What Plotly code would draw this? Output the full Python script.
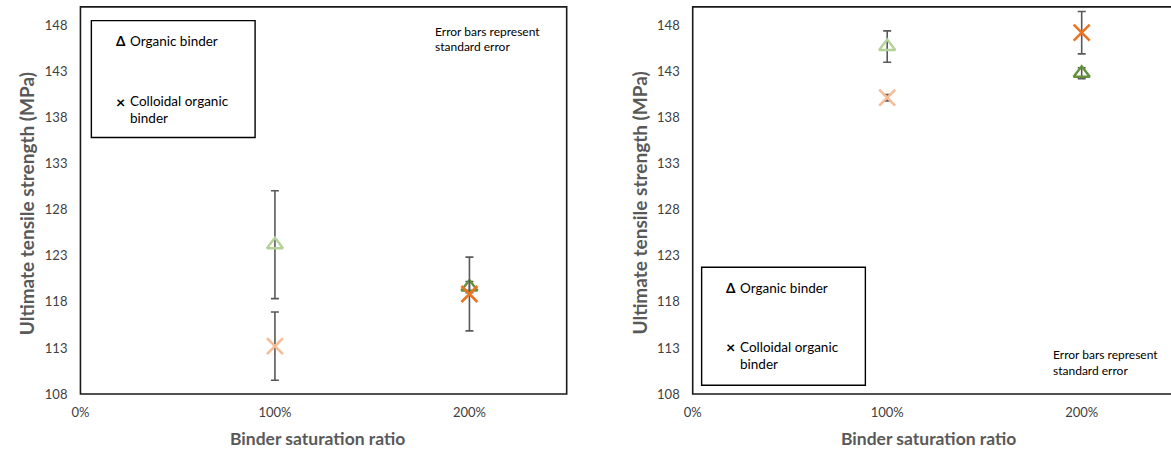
import plotly.graph_objects as go

W, H = 1171, 460

# Binder saturation ratio (1.0 = 100 %)
ratios = [1.0, 2.0]
x_tickvals = [0.0, 1.0, 2.0]
x_ticktext = ["0%", "100%", "200%"]
y_tickvals = [108, 113, 118, 123, 128, 133, 138, 143, 148]

# Left chart: ultimate tensile strength (MPa) and standard error
left_organic = [124.2, 119.6]
left_organic_err = [5.85, 0.6]
left_colloidal = [113.2, 118.85]
left_colloidal_err = [3.7, 4.0]

# Right chart
right_organic = [145.7, 142.8]
right_organic_err = [1.7, 0.6]
right_colloidal = [140.15, 147.2]
right_colloidal_err = [0.35, 2.3]

organic_colors = ["#b3d398", "#63913a"]
colloidal_colors = ["#f7bc96", "#eb7424"]

FONT = "Lato"
ERR_COLOR = "#595959"
TEXT = "#404040"
TITLE = "#595959"


def px(x):
    return x / W


def py(y):
    return 1 - y / H


fig = go.Figure()


def add_panel(xa, ya, organic, organic_err, colloidal, colloidal_err):
    fig.add_trace(go.Scatter(
        x=ratios, y=organic, mode="markers", xaxis=xa, yaxis=ya,
        marker=dict(symbol="triangle-up-open", size=14, color=organic_colors,
                    line=dict(width=2.4)),
        error_y=dict(type="data", array=organic_err, visible=True,
                     color=ERR_COLOR, thickness=1.6, width=4),
        showlegend=False, hoverinfo="skip"))
    fig.add_trace(go.Scatter(
        x=ratios, y=colloidal, mode="markers", xaxis=xa, yaxis=ya,
        marker=dict(symbol="x-thin-open", size=16, color=colloidal_colors,
                    line=dict(width=2.6)),
        error_y=dict(type="data", array=colloidal_err, visible=True,
                     color=ERR_COLOR, thickness=1.6, width=4),
        showlegend=False, hoverinfo="skip"))


add_panel("x", "y", left_organic, left_organic_err, left_colloidal, left_colloidal_err)
add_panel("x2", "y2", right_organic, right_organic_err, right_colloidal, right_colloidal_err)

y_dom = [py(401), py(7)]

axis_common = dict(showgrid=False, zeroline=False, showline=False, ticks="",
                   tickfont=dict(family=FONT, size=13, color=TEXT))

fig.update_layout(
    width=W, height=H,
    margin=dict(l=0, r=0, t=0, b=0),
    paper_bgcolor="white", plot_bgcolor="white",
    xaxis=dict(domain=[px(72), px(562)], range=[0, 2.5], tickvals=x_tickvals,
               ticktext=x_ticktext, ticklabelstandoff=9, **axis_common),
    yaxis=dict(domain=y_dom, range=[108, 150], tickvals=y_tickvals,
               ticklabelstandoff=12, **axis_common),
    xaxis2=dict(domain=[px(689), 1.0], range=[0, (1171 - 689) / 196.0],
                tickvals=x_tickvals, ticktext=x_ticktext, ticklabelstandoff=9,
                anchor="y2", **axis_common),
    yaxis2=dict(domain=y_dom, range=[108, 150], tickvals=y_tickvals,
                ticklabelstandoff=12, anchor="x2", **axis_common),
)

shapes = []
# plot-area borders
shapes.append(dict(type="rect", xref="paper", yref="paper",
                   x0=px(72), x1=px(562), y0=py(401), y1=py(7),
                   line=dict(color="#1a1a1a", width=1.6), layer="above"))
shapes.append(dict(type="rect", xref="paper", yref="paper",
                   x0=px(689), x1=px(1180), y0=py(401), y1=py(7),
                   line=dict(color="#1a1a1a", width=1.6), layer="above"))
# legend boxes
shapes.append(dict(type="rect", xref="paper", yref="paper",
                   x0=px(83), x1=px(248), y0=py(140), y1=py(21),
                   line=dict(color="#000000", width=1.4)))
shapes.append(dict(type="rect", xref="paper", yref="paper",
                   x0=px(698), x1=px(863), y0=py(392), y1=py(272),
                   line=dict(color="#000000", width=1.4)))
fig.update_layout(shapes=shapes)

ann = []


def text(x, y, s, size=13.5, color="#000000", xanchor="left", **kw):
    ann.append(dict(x=px(x), y=py(y), xref="paper", yref="paper", text=s,
                    showarrow=False, xanchor=xanchor, yanchor="middle",
                    font=dict(family=FONT, size=size, color=color), **kw))


def legend_block(x0, y_org, y_col):
    text(x0, y_org, "<b>Δ</b>", size=13.5)
    text(x0 + 14, y_org, "Organic binder")
    text(x0, y_col, "<b>×</b>", size=16)
    text(x0 + 14, y_col, "Colloidal organic")
    text(x0 + 14, y_col + 17, "binder")


legend_block(106, 42, 103)
legend_block(721, 293, 353)

text(427, 32, "Error bars represent", size=12)
text(427, 47, "standard error", size=12)
text(1050, 361, "Error bars represent", size=12)
text(1050, 377, "standard error", size=12)

# axis titles
for cx in (311, 927):
    text(cx, 446, "<b>Binder saturation ratio</b>", size=17.5, color=TITLE, xanchor="center")
for cx in (18, 635):
    text(cx, 207, "<b>Ultimate tensile strength (MPa)</b>", size=19, color=TITLE,
         xanchor="center", textangle=-90)

fig.update_layout(annotations=ann)

fig.write_html("out.html")
